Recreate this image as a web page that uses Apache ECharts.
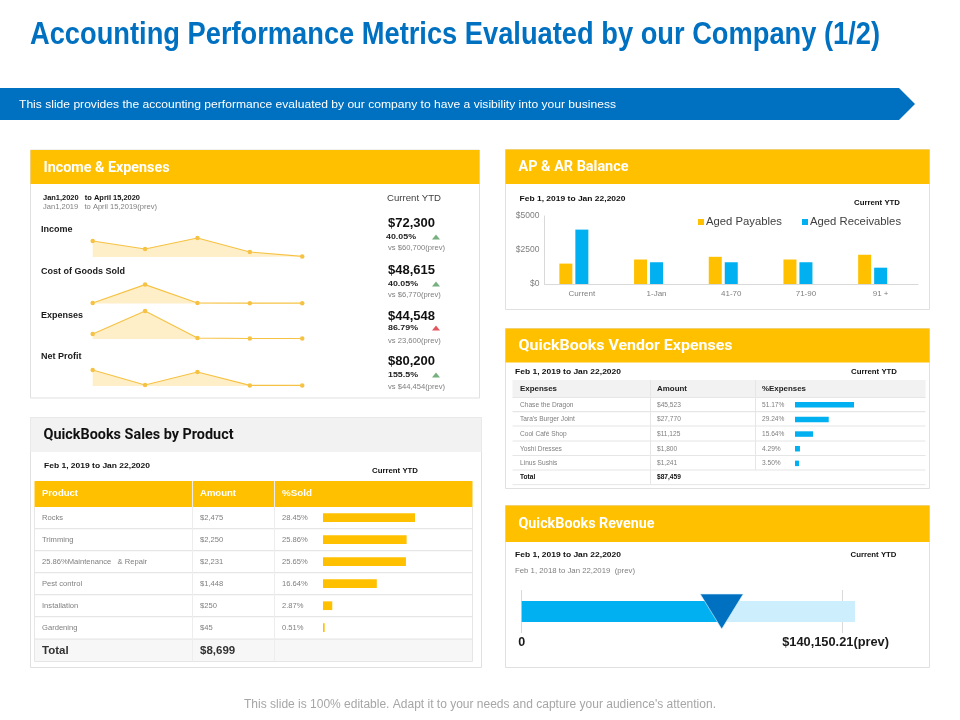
<!DOCTYPE html>
<html><head><meta charset="utf-8">
<style>html,body{margin:0;padding:0;background:#fff}#c{width:960px;height:720px}</style>
<script src="https://cdn.jsdelivr.net/npm/echarts@6/dist/echarts.min.js"></script>
</head><body><div id="c"></div>
<script>
// ---------- data ----------
const titleText = 'Accounting Performance Metrics Evaluated by our Company (1/2)';
const bandText = 'This slide provides the accounting performance evaluated by our company to have a visibility into your business';
const footerText = "This slide is 100% editable. Adapt it to your needs and capture your audience's attention.";

const sparkCategories = ['P1', 'P2', 'P3', 'P4', 'P5'];
const incomeTrend = [16, 8, 19, 5, 0.6];
const cogsTrend = [0.6, 19, 0.6, 0.4, 0.4];
const expensesTrend = [5, 28, 1, 0.5, 0.5];
const netProfitTrend = [16, 1, 14, 0.6, 0.6];
const metricNames = ['Income', 'Cost of Goods Sold', 'Expenses', 'Net Profit'];
const metricValues = ['$72,300', '$48,615', '$44,548', '$80,200'];
const metricChanges = ['40.05%', '40.05%', '86.79%', '155.5%'];
const metricPrev = ['vs $60,700(prev)', 'vs $6,770(prev)', 'vs 23,600(prev)', 'vs $44,454(prev)'];

const agingCategories = ['Current', '1-Jan', '41-70', '71-90', '91 +'];
const agedPayables = [1500, 1800, 2000, 1800, 2150];
const agedReceivables = [4000, 1600, 1600, 1600, 1200];

const vendorNames = ['Chase the Dragon', "Tara's Burger Joint", 'Cool Café Shop', 'Yoshi Dresses', 'Linus Sushis'];
const vendorAmounts = ['$45,523', '$27,770', '$11,125', '$1,800', '$1,241'];
const vendorPct = [51.17, 29.24, 15.64, 4.29, 3.50];
const vendorTotal = '$87,459';

const productNames = ['Rocks', 'Trimming', '25.86%Maintenance   & Repair', 'Pest control', 'Installation', 'Gardening'];
const productAmounts = ['$2,475', '$2,250', '$2,231', '$1,448', '$250', '$45'];
const productPct = [28.45, 25.86, 25.65, 16.64, 2.87, 0.51];
const productTotal = '$8,699';

const revenueCurrent = 87500;
const revenuePrevTick = 140150.21;
const revenueBarEnd = 145800;

// ---------- palette ----------
const GOLD = '#FFC000', BLUE = '#00B0F0', NAVY = '#0070C0', PALE = '#CCEEFD';
const LINE = '#D9D9D9', SPARK = '#F6C244', SPARKFILL = '#FFEFC9';
const SANS = '"Liberation Sans", Arial, sans-serif';
const HEAD = 'Roboto, "Liberation Sans", sans-serif';

// ---------- graphic helpers ----------
const g = [];
const mctx = document.createElement('canvas').getContext('2d');
// last argument w: horizontal extent the text is fitted to in the slide
function T(text, x, y, size, fill, weight, family, align, w) {
  const fam = family || SANS, wt = weight || 'normal';
  let sx = 1;
  if (w) { mctx.font = wt + ' ' + size + 'px ' + fam; sx = w / mctx.measureText(text).width; }
  g.push({type:'text', x, y, scaleX:sx, silent:true, z:6, style:{text, fontSize:size, fill, fontWeight:wt,
    fontFamily:fam, align:align||'left', verticalAlign:'middle'}});
}
function R(x, y, w, h, fill, stroke) {
  g.push({type:'rect', silent:true, z:1, shape:{x, y, width:w, height:h},
    style:{fill:fill||'none', stroke:stroke||'none', lineWidth:stroke?1:0}});
}
function L(x1, y1, x2, y2, c, w) {
  g.push({type:'line', silent:true, z:2, shape:{x1, y1, x2, y2}, style:{stroke:c||LINE, lineWidth:w||1}});
}
function P(points, fill) {
  g.push({type:'polygon', silent:true, z:3, shape:{points}, style:{fill}});
}
function panel(x, y, w, h, hh, title, fill, color, tw) {
  R(x, y, w, h, '#fff', '#E0E0E0');
  R(x, y, w, hh, fill);
  T(title, x + 13, y + hh / 2 + 1, 14.5, color, 'bold', HEAD, 'left', tw);
}

// title + band
T(titleText, 30, 35, 31, NAVY, 'bold', SANS, 'left', 850);
P([[0,88],[899,88],[915,104],[899,120],[0,120]], NAVY);
T(bandText, 19, 104.5, 11.8, '#fff', 'normal', SANS, 'left', 597);
T(footerText, 480, 705, 12, '#A6A6A6', 'normal', SANS, 'center');

// Income & Expenses panel
panel(30.5, 150, 449, 248, 34, 'Income & Expenses', GOLD, '#fff', 126);
T('Jan1,2020   to April 15,2020', 43, 198, 7.6, '#111', 'bold', SANS, 'left', 97);
T('Jan1,2019   to April 15,2019(prev)', 43, 207, 7.6, '#7F7F7F', 'normal', SANS, 'left', 114);
T('Current YTD', 387, 198.5, 8.6, '#404040', 'normal', SANS, 'left', 54);
const labelY = [230, 272, 315.5, 357];
const valueY = [223, 270, 316, 361];
const changeY = [237, 284, 328, 375];
const prevY = [248, 294.5, 341, 387];
const changeUp = [true, true, false, true];
metricNames.forEach((n, i) => {
  T(n, 41, labelY[i], 9, '#1A1A1A', 'bold');
  T(metricValues[i], 388, valueY[i], 13, '#111', 'bold');
  T(metricChanges[i], i === 0 ? 386 : 388, changeY[i], 7.8, '#222', 'bold', SANS, 'left', 30);
  T(metricPrev[i], 388, prevY[i], 7.6, '#7F7F7F');
  const cy = changeY[i];
  P([[432, cy + 2.5], [436, cy - 2.5], [440, cy + 2.5]], changeUp[i] ? '#76B07F' : '#E2575F');
});

// AP & AR panel
panel(505.5, 149.5, 424, 160, 34.5, 'AP & AR Balance', GOLD, '#fff', 110);
T('Feb 1, 2019 to Jan 22,2020', 519.5, 199, 8, '#111', 'bold', SANS, 'left', 106);
T('Current YTD', 854, 203, 7.6, '#111', 'bold', SANS, 'left', 46);

// Vendor panel
panel(505.5, 328.5, 424, 160, 34, 'QuickBooks Vendor Expenses', GOLD, '#fff', 214);
T('Feb 1, 2019 to Jan 22,2020', 515, 372, 8, '#111', 'bold', SANS, 'left', 106);
T('Current YTD', 851, 372, 7.6, '#111', 'bold', SANS, 'left', 46);
R(512.5, 380, 413, 17.5, '#F2F2F2');
[397.5, 411.7, 426, 441, 455.5, 470, 484.7].forEach(y => L(512.5, y, 925.5, y, '#E6E6E6', y === 484.7 ? 1 : 1.2));
L(650.5, 380, 650.5, 484.7, '#E6E6E6');
L(755.5, 380, 755.5, 470, '#E6E6E6');
T('Expenses', 520, 389, 7.6, '#222', 'bold', SANS, 'left', 37);
T('Amount', 657, 389, 7.6, '#222', 'bold', SANS, 'left', 30);
T('%Expenses', 762, 389, 7.6, '#222', 'bold', SANS, 'left', 44);
const vendorRowY = [404.7, 419.3, 434, 448.7, 463.3];
vendorNames.forEach((n, i) => {
  T(n, 520, vendorRowY[i], 6.6, '#7F7F7F');
  T(vendorAmounts[i], 657, vendorRowY[i], 6.6, '#7F7F7F');
  T(vendorPct[i].toFixed(2) + '%', 762, vendorRowY[i], 6.6, '#7F7F7F');
});
T('Total', 520, 477, 6.6, '#111', 'bold');
T(vendorTotal, 657, 477, 6.6, '#111', 'bold');

// Sales panel
panel(30.5, 417.5, 451, 250, 34.5, 'QuickBooks Sales by Product', '#F2F2F2', '#111', 190);
T('Feb 1, 2019 to Jan 22,2020', 44, 466, 8, '#111', 'bold', SANS, 'left', 106);
T('Current YTD', 372, 471, 7.6, '#111', 'bold', SANS, 'left', 46);
R(34.5, 481, 438, 26, GOLD);
R(34.5, 639.5, 438, 22, '#F7F7F7');
[528.7, 550.7, 572.7, 594.7, 616.7, 639.2, 661.5].forEach(y => L(34.5, y, 472.5, y, '#E6E6E6', 1.2));
L(34.5, 507, 34.5, 661.5, '#E6E6E6');
L(472.5, 507, 472.5, 661.5, '#E6E6E6');
L(192.5, 481, 192.5, 661.5, '#EDEDED');
L(274.5, 481, 274.5, 661.5, '#EDEDED');
T('Product', 42, 493.5, 9, '#fff', 'bold', SANS, 'left', 36);
T('Amount', 200, 493.5, 9, '#fff', 'bold', SANS, 'left', 36);
T('%Sold', 282, 493.5, 9, '#fff', 'bold', SANS, 'left', 30);
const productRowY = [517.7, 540, 562, 584, 606, 628];
productNames.forEach((n, i) => {
  T(n, 42, productRowY[i], 7.6, '#7F7F7F');
  T(productAmounts[i], 200, productRowY[i], 7.6, '#7F7F7F');
  T(productPct[i].toFixed(2) + '%', 282, productRowY[i], 7.6, '#7F7F7F');
});
T('Total', 42, 650.5, 11.5, '#333', 'bold');
T(productTotal, 200, 650.5, 11.5, '#333', 'bold');

// Revenue panel
panel(505.5, 505.5, 424, 162, 36.5, 'QuickBooks Revenue', GOLD, '#fff', 136);
T('Feb 1, 2019 to Jan 22,2020', 515, 555, 8, '#111', 'bold', SANS, 'left', 106);
T('Current YTD', 850.5, 555, 7.6, '#111', 'bold', SANS, 'left', 46);
T('Feb 1, 2018 to Jan 22,2019  (prev)', 515, 571, 7.6, '#7F7F7F', 'normal', SANS, 'left', 120);

// ---------- grids, axes, series ----------
const grids = [], xAxes = [], yAxes = [], series = [];
function addGrid(rect, x, y) {
  const i = grids.length;
  grids.push(Object.assign({containLabel:false}, rect));
  xAxes.push(Object.assign({gridIndex:i, z:3}, x));
  yAxes.push(Object.assign({gridIndex:i, z:3}, y));
  return i;
}
// sparklines: each grid's bottom edge is the zero line of the small chart
const sparkSets = [incomeTrend, cogsTrend, expensesTrend, netProfitTrend];
const sparkBase = [257, 303.6, 339, 386];
sparkSets.forEach((vals, k) => {
  const i = addGrid({left:92.7, width:209.5, top:sparkBase[k] - 30, height:30},
    {type:'category', data:sparkCategories, boundaryGap:false, show:false},
    {type:'value', min:0, max:30, show:false});
  series.push({type:'line', xAxisIndex:i, yAxisIndex:i, data:vals, symbol:'circle', symbolSize:4.5, showSymbol:true,
    lineStyle:{color:SPARK, width:1.2}, itemStyle:{color:SPARK}, areaStyle:{color:SPARKFILL, opacity:1},
    animation:false, silent:true, z:4});
});
// aged balances
const ag = addGrid({left:544.5, width:373.5, top:216, height:68},
  {type:'category', data:agingCategories, axisTick:{show:false}, axisLine:{lineStyle:{color:LINE}},
   axisLabel:{color:'#7F7F7F', fontSize:8, fontFamily:SANS, margin:6}},
  {type:'value', min:0, max:5000, interval:2500, splitLine:{show:false}, axisTick:{show:false},
   axisLine:{show:true, lineStyle:{color:LINE}},
   axisLabel:{color:'#7F7F7F', fontSize:8.5, fontFamily:SANS, margin:5, formatter:v => '$' + v}});
series.push({type:'bar', name:'Aged Payables', xAxisIndex:ag, yAxisIndex:ag, data:agedPayables, barWidth:13, barGap:'23%',
  itemStyle:{color:GOLD}, animation:false, silent:true, z:4});
series.push({type:'bar', name:'Aged Receivables', xAxisIndex:ag, yAxisIndex:ag, data:agedReceivables, barWidth:13,
  itemStyle:{color:BLUE}, animation:false, silent:true, z:4});
series.push({type:'bar', name:'spacer', xAxisIndex:ag, yAxisIndex:ag, data:[], barWidth:13, animation:false, silent:true});

// vendor bars
const vg = addGrid({left:795, width:69.2, top:397.4, height:73.3},
  {type:'value', min:0, max:60, show:false},
  {type:'category', data:vendorNames, inverse:true, show:false});
series.push({type:'bar', xAxisIndex:vg, yAxisIndex:vg, data:vendorPct, barWidth:5.5, itemStyle:{color:BLUE}, animation:false, silent:true, z:4});

// product bars
const pg = addGrid({left:323, width:97, top:506.7, height:132},
  {type:'value', min:0, max:30, show:false},
  {type:'category', data:productNames, inverse:true, show:false});
series.push({type:'bar', xAxisIndex:pg, yAxisIndex:pg, data:productPct, barWidth:8.7, itemStyle:{color:GOLD}, animation:false, silent:true, z:4});

// revenue bullet
const rg = addGrid({left:521.7, width:333.3, top:590, height:43},
  {type:'value', min:0, max:revenueBarEnd, interval:revenuePrevTick, axisLine:{show:false}, axisTick:{show:false},
   splitLine:{show:true, showMaxLine:false, lineStyle:{color:LINE}},
   axisLabel:{show:true, showMaxLabel:false, margin:3, hideOverlap:false,
     rich:{
       z:{fontSize:12.5, fontWeight:'bold', fontFamily:SANS, color:'#1A1A1A'},
       p:{fontSize:12.8, fontWeight:'bold', fontFamily:SANS, color:'#1A1A1A', padding:[0,13,0,0]}
     },
     formatter:v => v === 0 ? '{z|0}' : '{p|$' + v.toLocaleString('en-US', {minimumFractionDigits:2}) + '(prev)}'}},
  {type:'category', data:['Revenue'], show:false});
series.push({type:'bar', xAxisIndex:rg, yAxisIndex:rg, data:[revenueBarEnd], barWidth:21, barGap:'-100%', itemStyle:{color:PALE}, animation:false, silent:true, z:4});
series.push({type:'bar', xAxisIndex:rg, yAxisIndex:rg, data:[revenueCurrent], barWidth:21, itemStyle:{color:BLUE}, animation:false, silent:true, z:4});
series.push({type:'scatter', xAxisIndex:rg, yAxisIndex:rg, data:[[revenueCurrent, 'Revenue']], symbol:'triangle', symbolRotate:180, symbolSize:[43, 35],
  itemStyle:{color:NAVY, opacity:1, borderColor:'#DDF3FD', borderWidth:0.6}, animation:false, silent:true, z:5});

const chart = echarts.init(document.getElementById('c'), null, {renderer:'canvas', width:960, height:720});
chart.setOption({
  animation:false, backgroundColor:'#fff',
  grid:grids, xAxis:xAxes, yAxis:yAxes, series, graphic:{elements:g},
  legend:{data:['Aged Payables', 'Aged Receivables'], left:698, top:216.5, padding:0, orient:'horizontal', itemWidth:6, itemHeight:6,
    itemGap:20, icon:'rect', selectedMode:false, z:6, textStyle:{color:'#404040', fontSize:11.3, fontFamily:SANS, padding:[0,0,0,-3]}}
});
</script></body></html>
